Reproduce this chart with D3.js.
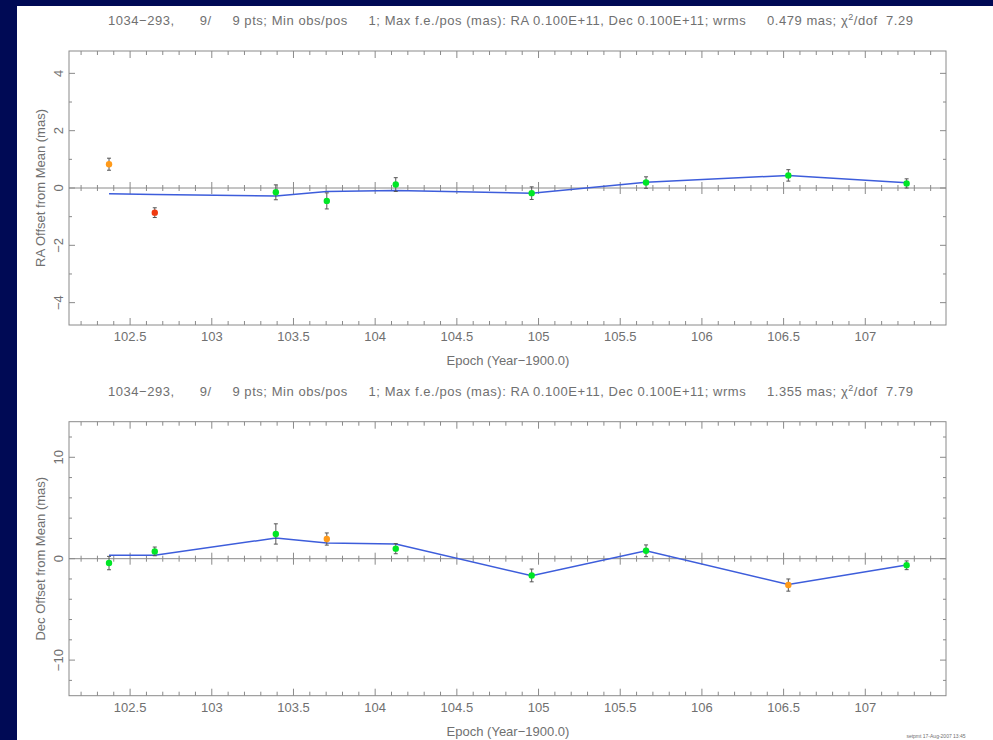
<!DOCTYPE html>
<html lang="en">
<head>
    <meta charset="UTF-8">
    <title>1034-293 position offsets</title>
    <script src="https://cdnjs.cloudflare.com/ajax/libs/d3/7.8.5/d3.min.js"></script>
    <style>
        body { margin: 0; background: #000a55; }
        svg { display: block; }
        text { font-family: "Liberation Sans", "DejaVu Sans", sans-serif; fill: #707070; }
        .frame { fill: none; stroke: #8a8a8a; stroke-width: 1; }
        .tick { stroke: #8a8a8a; stroke-width: 1; }
        .model { fill: none; stroke: #3d5ddb; stroke-width: 1.5; }
        .err { stroke: #555; stroke-width: 1; }
    </style>
</head>
<body>
<div id="chart"></div>
<script>
    // epochs (year - 1900)
    const epochs = [102.371, 102.651, 103.392, 103.704, 104.126, 104.958, 105.658, 106.529, 107.253];

    // RA offsets (mas)
    const raVals  = [0.83, -0.86, -0.15, -0.45, 0.12, -0.18, 0.19, 0.44, 0.16];
    const raErrs  = [0.21, 0.17, 0.26, 0.28, 0.24, 0.22, 0.20, 0.20, 0.16];
    const raModel = [-0.20, -0.23, -0.28, -0.12, -0.09, -0.18, 0.20, 0.44, 0.18];
    const raColor = ["orange", "red", "green", "green", "green", "green", "green", "green", "green"];

    // Dec offsets (mas)
    const decVals  = [-0.43, 0.72, 2.44, 1.94, 0.99, -1.65, 0.78, -2.6, -0.65];
    const decErrs  = [0.66, 0.43, 1.0, 0.6, 0.5, 0.63, 0.58, 0.6, 0.43];
    const decModel = [0.33, 0.33, 2.04, 1.55, 1.45, -1.68, 0.78, -2.55, -0.63];
    const decColor = ["green", "green", "green", "orange", "green", "green", "green", "orange", "green"];

    const titleParts = {
        ra:  ["1034\u2212293,      9/     9 pts; Min obs/pos     1; Max f.e./pos (mas): RA 0.100E+11, Dec 0.100E+11; wrms     0.479 mas; \u03c7", "/dof  7.29"],
        dec: ["1034\u2212293,      9/     9 pts; Min obs/pos     1; Max f.e./pos (mas): RA 0.100E+11, Dec 0.100E+11; wrms     1.355 mas; \u03c7", "/dof  7.79"]
    };

    const colors = { green: "#00e626", orange: "#ff9a1a", red: "#f03a10" };

    const width = 993, height = 740;
    const left = 69, right = 946;

    const svg = d3.select("#chart").append("svg")
        .attr("width", width)
        .attr("height", height);

    // white page with navy border on left/top
    svg.append("rect").attr("x", 17).attr("y", 6)
        .attr("width", width - 17).attr("height", height - 6)
        .attr("fill", "#fff");

    const x = d3.scaleLinear().domain([102.126, 107.494]).range([left, right]);
    const xMajor = d3.range(102.5, 107.01, 0.5);
    const xMinor = d3.range(102.2, 107.45, 0.1).map(v => Math.round(v * 10) / 10);

    function panel(cfg) {
        const y = d3.scaleLinear().domain([-cfg.ymax, cfg.ymax]).range([cfg.bottom, cfg.top]);
        const g = svg.append("g");
        const y0 = y(0);

        // title
        const t = g.append("text")
            .attr("x", 108).attr("y", cfg.top - 26)
            .attr("font-size", 13)
            .attr("textLength", 805)
            .attr("lengthAdjust", "spacing")
            .style("white-space", "pre");
        t.append("tspan").text(cfg.title[0]);
        t.append("tspan").attr("dy", -5).attr("font-size", 9).text("2");
        t.append("tspan").attr("dy", 5).text(cfg.title[1]);

        g.append("rect").attr("class", "frame")
            .attr("x", left).attr("y", cfg.top)
            .attr("width", right - left).attr("height", cfg.bottom - cfg.top);

        // x ticks: top, bottom frame and zero line
        const isMajor = v => xMajor.some(m => Math.abs(m - v) < 1e-6);
        xMinor.forEach(v => {
            const px = x(v);
            const len = isMajor(v) ? 7 : 4;
            g.append("line").attr("class", "tick")
                .attr("x1", px).attr("x2", px).attr("y1", cfg.bottom).attr("y2", cfg.bottom - len);
            g.append("line").attr("class", "tick")
                .attr("x1", px).attr("x2", px).attr("y1", cfg.top).attr("y2", cfg.top + len);
            const zl = isMajor(v) ? 6 : 3;
            g.append("line").attr("class", "tick")
                .attr("x1", px).attr("x2", px).attr("y1", y0 - zl).attr("y2", y0 + zl);
        });
        g.append("line").attr("class", "tick")
            .attr("x1", left).attr("x2", right).attr("y1", y0).attr("y2", y0);

        g.selectAll(".xl").data(xMajor).enter().append("text")
            .attr("x", d => x(d)).attr("y", cfg.bottom + 16)
            .attr("text-anchor", "middle").attr("font-size", 13)
            .text(d => d3.format("")(+d.toFixed(1)));

        g.append("text").attr("x", 508).attr("y", cfg.bottom + 40)
            .attr("text-anchor", "middle").attr("font-size", 13)
            .text("Epoch (Year\u22121900.0)");

        // y ticks
        cfg.yMinor.forEach(v => {
            const py = y(v);
            const len = cfg.yMajor.includes(v) ? 6 : 3;
            g.append("line").attr("class", "tick")
                .attr("x1", left).attr("x2", left + len).attr("y1", py).attr("y2", py);
            g.append("line").attr("class", "tick")
                .attr("x1", right).attr("x2", right - len).attr("y1", py).attr("y2", py);
        });
        cfg.yMajor.forEach(v => {
            g.append("text")
                .attr("transform", `translate(63,${y(v)}) rotate(-90)`)
                .attr("text-anchor", "middle").attr("font-size", 13)
                .text(v < 0 ? "\u2212" + Math.abs(v) : v);
        });
        g.append("text")
            .attr("transform", `translate(45,${(cfg.top + cfg.bottom) / 2}) rotate(-90)`)
            .attr("text-anchor", "middle").attr("font-size", 13)
            .text(cfg.ylabel);

        // model line
        const line = d3.line().x((d, i) => x(epochs[i])).y(d => y(d));
        g.append("path").attr("class", "model").attr("d", line(cfg.model));

        // error bars
        const pts = epochs.map((e, i) => ({ e, v: cfg.vals[i], s: cfg.errs[i], c: cfg.col[i] }));
        const eb = g.selectAll(".eb").data(pts).enter().append("g");
        eb.append("line").attr("class", "err")
            .attr("x1", d => x(d.e)).attr("x2", d => x(d.e))
            .attr("y1", d => y(d.v - d.s)).attr("y2", d => y(d.v + d.s));
        eb.append("line").attr("class", "err")
            .attr("x1", d => x(d.e) - 2).attr("x2", d => x(d.e) + 2)
            .attr("y1", d => y(d.v + d.s)).attr("y2", d => y(d.v + d.s));
        eb.append("line").attr("class", "err")
            .attr("x1", d => x(d.e) - 2).attr("x2", d => x(d.e) + 2)
            .attr("y1", d => y(d.v - d.s)).attr("y2", d => y(d.v - d.s));
        eb.append("circle")
            .attr("cx", d => x(d.e)).attr("cy", d => y(d.v)).attr("r", 3.2)
            .attr("fill", d => colors[d.c]);
    }

    panel({
        top: 51, bottom: 325, ymax: 4.78,
        yMajor: [-4, -2, 0, 2, 4], yMinor: d3.range(-4, 4.1, 1),
        vals: raVals, errs: raErrs, model: raModel, col: raColor,
        title: titleParts.ra, ylabel: "RA Offset from Mean (mas)"
    });

    panel({
        top: 421.7, bottom: 695.7, ymax: 13.51,
        yMajor: [-10, 0, 10], yMinor: d3.range(-12, 12.1, 2),
        vals: decVals, errs: decErrs, model: decModel, col: decColor,
        title: titleParts.dec, ylabel: "Dec Offset from Mean (mas)"
    });

    svg.append("text").attr("x", 936).attr("y", 738)
        .attr("text-anchor", "middle").attr("font-size", 5)
        .text("setpmt 17-Aug-2007 13:45");
</script>
</body>
</html>
